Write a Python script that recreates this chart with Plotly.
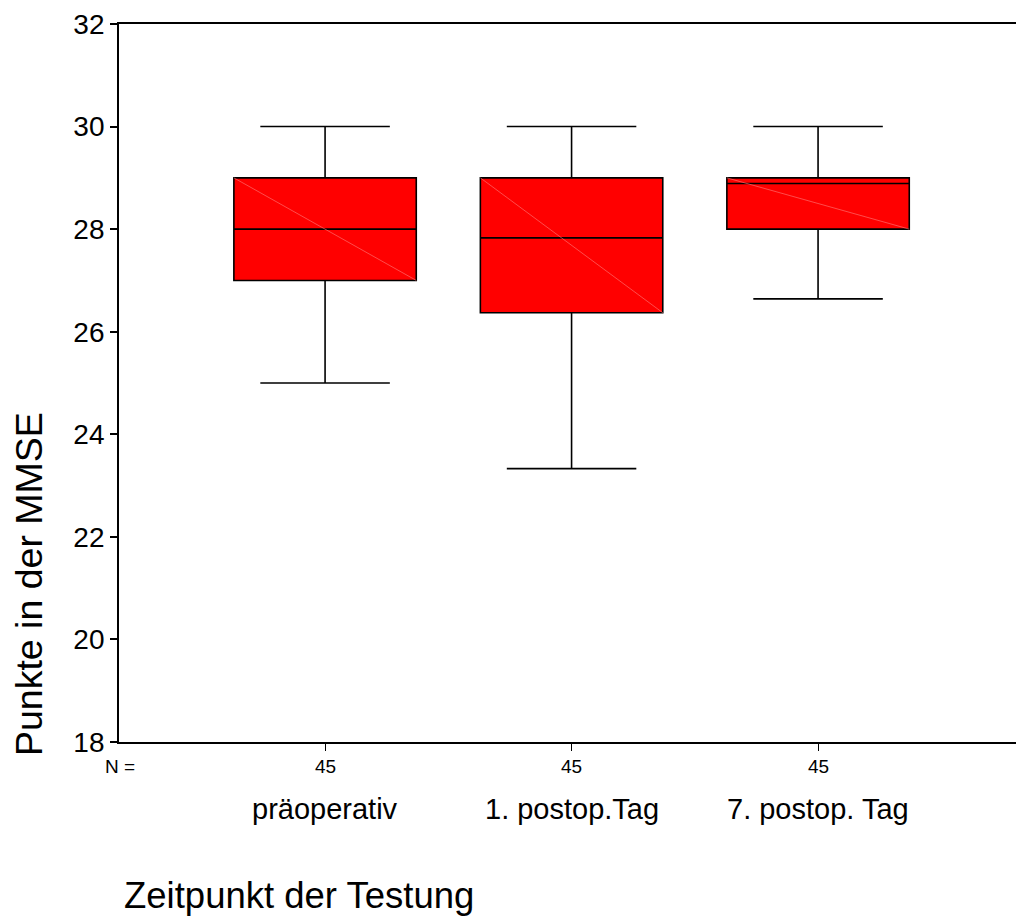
import plotly.graph_objects as go

# ---- data ----
categories = ["präoperativ", "1. postop.Tag", "7. postop. Tag"]
n_values = [45, 45, 45]
lower_whisker = [25.0, 23.33, 26.64]
q1_values = [27.0, 26.37, 28.0]
median_values = [28.0, 27.83, 28.89]
q3_values = [29.0, 29.0, 29.0]
upper_whisker = [30.0, 30.0, 30.0]
y_ticks = [18, 20, 22, 24, 26, 28, 30, 32]

FONT = "Liberation Sans, Arial, sans-serif"
positions = list(range(len(categories)))
box_w = 0.74

fig = go.Figure()
fig.add_trace(go.Box(
    x=positions,
    q1=q1_values, median=median_values, q3=q3_values,
    lowerfence=lower_whisker, upperfence=upper_whisker,
    width=box_w, whiskerwidth=0.71,
    fillcolor="#ff0000",
    line=dict(color="black", width=1.6),
    boxpoints=False, showlegend=False, hoverinfo="skip",
))

# faint diagonal inside each box (from upper-left to lower-right corner)
for p, lo, hi in zip(positions, q1_values, q3_values):
    fig.add_trace(go.Scatter(
        x=[p - box_w / 2, p + box_w / 2], y=[hi, lo],
        mode="lines", line=dict(color="rgba(255,120,120,0.9)", width=0.7),
        showlegend=False, hoverinfo="skip",
    ))

annotations = []
annotations.append(dict(text="N =", xref="paper", yref="paper", x=0.001, y=-0.0344,
                        xanchor="center", yanchor="middle", showarrow=False,
                        font=dict(family=FONT, size=19, color="black")))
for p, n, c in zip(positions, n_values, categories):
    annotations.append(dict(text=str(n), xref="x", yref="paper", x=p, y=-0.0344,
                            xanchor="center", yanchor="middle", showarrow=False,
                            font=dict(family=FONT, size=19, color="black")))
    annotations.append(dict(text=c, xref="x", yref="paper", x=p, y=-0.0933,
                            xanchor="center", yanchor="middle", showarrow=False,
                            font=dict(family=FONT, size=29, color="black")))
annotations.append(dict(text="Zeitpunkt der Testung", xref="paper", yref="paper",
                        x=0.0033, y=-0.214, xanchor="left", yanchor="middle",
                        showarrow=False, font=dict(family=FONT, size=36.5, color="black")))
annotations.append(dict(text="Punkte in der MMSE", xref="paper", yref="paper",
                        x=-0.1003, y=0.22, xanchor="center", yanchor="middle",
                        textangle=-90, showarrow=False,
                        font=dict(family=FONT, size=37.5, color="black")))

fig.update_layout(
    width=1016, height=917,
    margin=dict(l=119, r=0, t=24, b=175),
    paper_bgcolor="white", plot_bgcolor="white",
    font=dict(family=FONT, color="black"),
    annotations=annotations,
    xaxis=dict(range=[-0.836, 2.803], showgrid=False, zeroline=False,
               showline=True, linecolor="black", linewidth=1.8, mirror=True,
               tickmode="array", tickvals=positions, showticklabels=False,
               ticks="outside", ticklen=7, tickcolor="black", tickwidth=1.2),
    yaxis=dict(range=[18, 32], tickmode="array", tickvals=y_ticks,
               showgrid=False, zeroline=False,
               showline=True, linecolor="black", linewidth=1.8,
               ticks="outside", ticklen=7, tickcolor="black", tickwidth=1.6,
               tickfont=dict(family=FONT, size=28, color="black")),
)

fig.write_html("out.html")
